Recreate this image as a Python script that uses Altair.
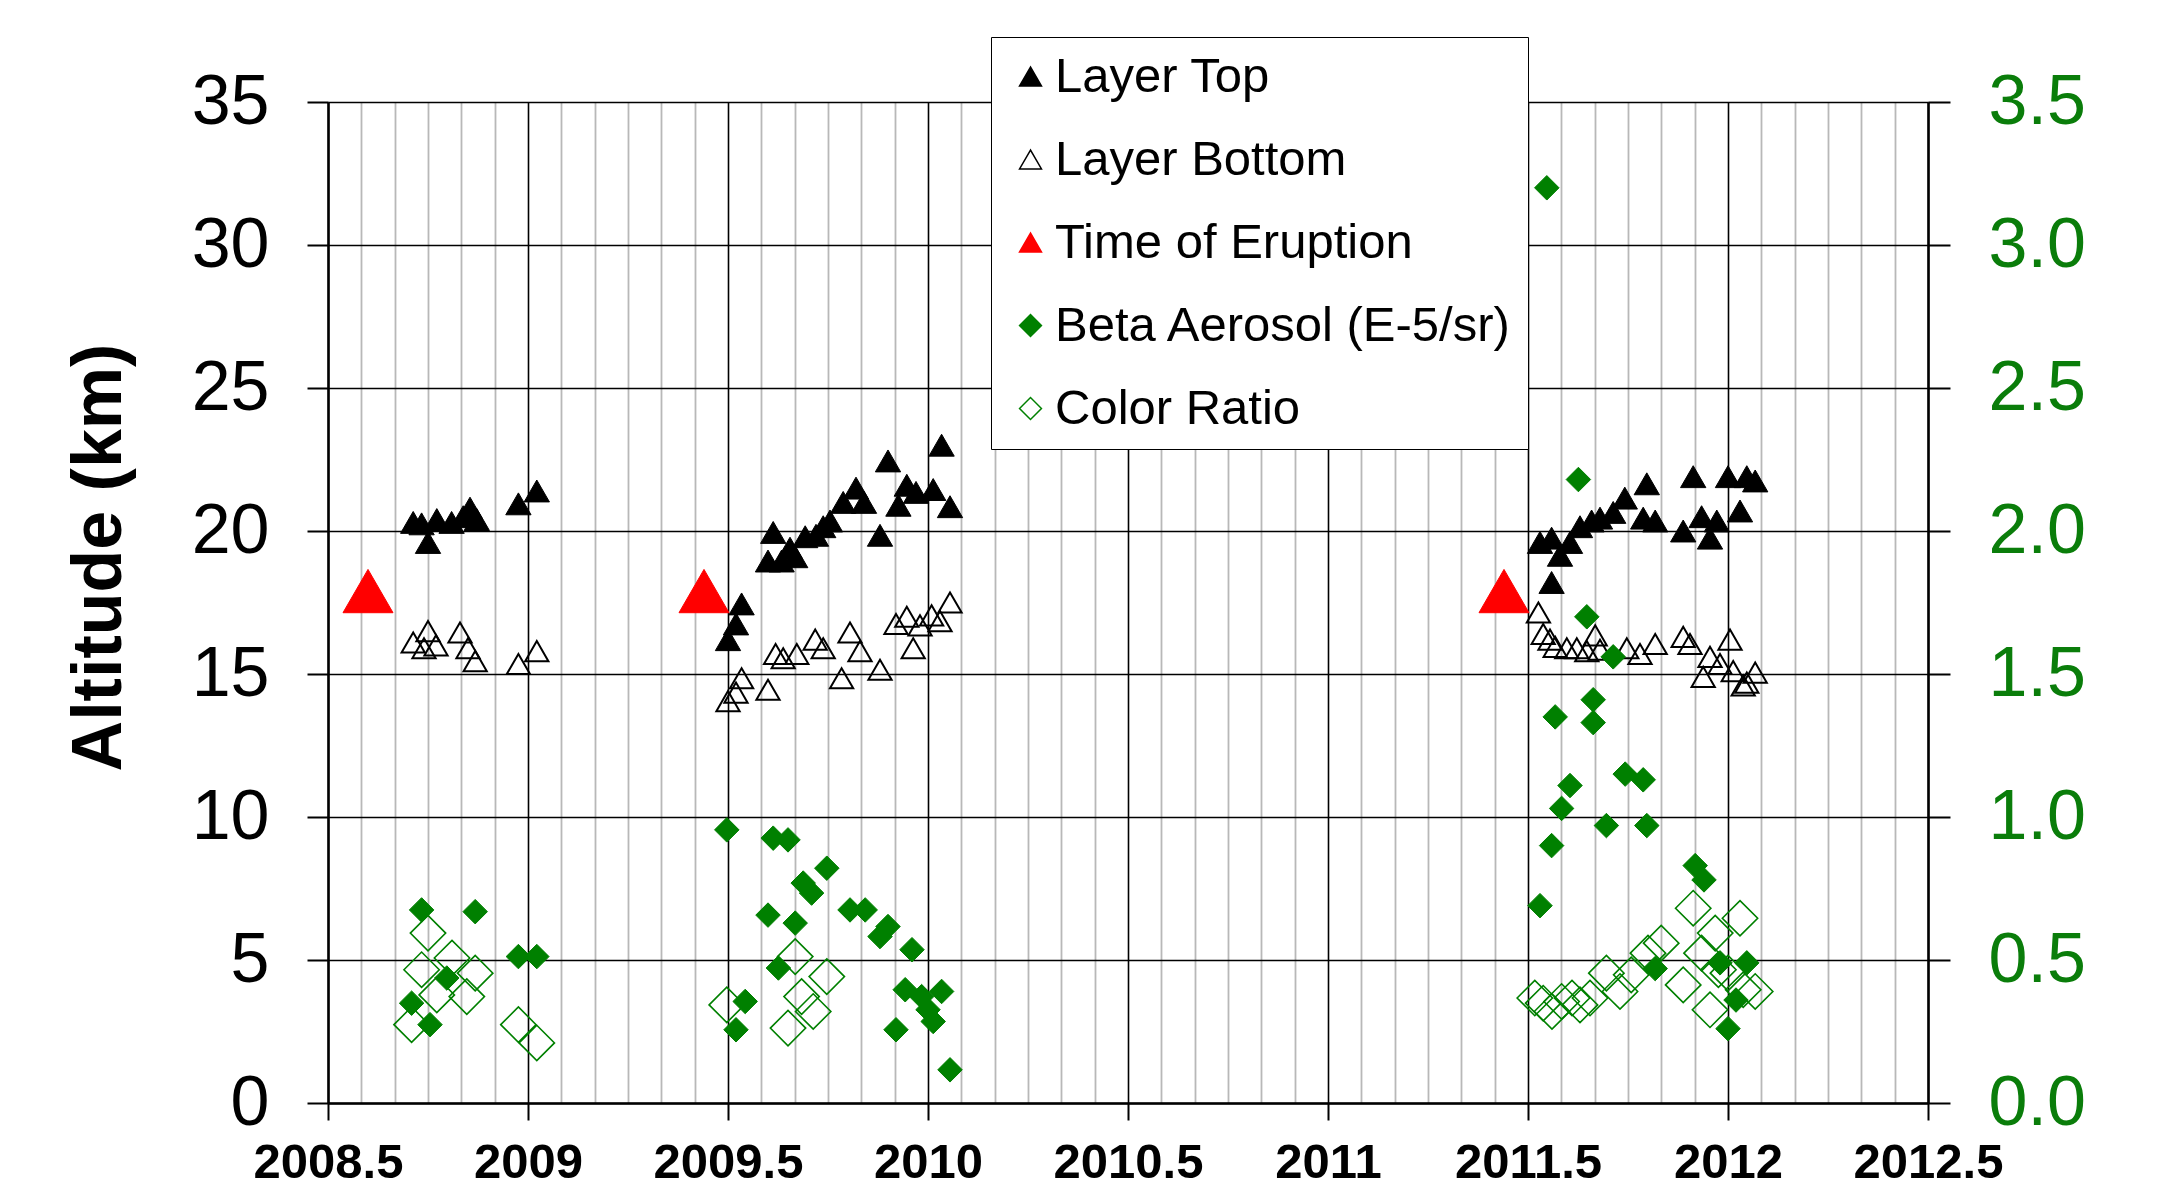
import altair as alt
import pandas as pd

# ---------------- data ----------------
SERIES = ["Layer Top", "Layer Bottom", "Time of Eruption",
          "Beta Aerosol (E-5/sr)", "Color Ratio"]

TOP_X = [2008.713, 2008.734, 2008.750, 2008.772, 2008.809, 2008.838, 2008.855, 2008.872, 2008.976, 2009.022,
         2009.500, 2009.520, 2009.534, 2009.600, 2009.613, 2009.634, 2009.655, 2009.668, 2009.693, 2009.720,
         2009.738, 2009.755, 2009.788, 2009.820, 2009.840, 2009.880, 2009.900, 2009.926, 2009.947, 2009.970,
         2010.013, 2010.034, 2010.055,
         2011.530, 2011.559, 2011.580, 2011.559, 2011.605, 2011.630, 2011.659, 2011.680, 2011.713, 2011.742,
         2011.797, 2011.788, 2011.818, 2011.888, 2011.913, 2011.934, 2011.955, 2011.972, 2012.000, 2012.030,
         2012.047, 2012.068]
TOP_Y = [20.3, 20.25, 19.6, 20.4, 20.3, 20.5, 20.8, 20.4, 20.95, 21.4,
         16.2, 16.75, 17.45, 18.95, 19.95, 18.95, 19.4, 19.1, 19.8, 19.85,
         20.15, 20.35, 21.0, 21.5, 21.0, 19.85, 22.45, 20.9, 21.6, 21.35,
         21.45, 23.0, 20.85,
         19.6, 19.75, 19.15, 18.2, 19.6, 20.15, 20.35, 20.45, 20.65, 21.15,
         21.65, 20.45, 20.35, 20.0, 21.9, 20.5, 19.75, 20.35, 21.9, 20.7,
         21.9, 21.75]

BOT_X = [2008.713, 2008.740, 2008.750, 2008.770, 2008.830, 2008.850, 2008.868, 2008.976, 2009.022,
         2009.500, 2009.520, 2009.534, 2009.600, 2009.619, 2009.638, 2009.672, 2009.718, 2009.738, 2009.784,
         2009.805, 2009.830, 2009.880, 2009.920, 2009.947, 2009.963, 2009.980, 2010.009, 2010.030, 2010.055,
         2011.526, 2011.538, 2011.555, 2011.568, 2011.597, 2011.622, 2011.647, 2011.668, 2011.680, 2011.747,
         2011.780, 2011.818, 2011.888, 2011.905, 2011.955, 2011.938, 2011.980, 2012.005, 2012.013, 2012.038,
         2012.068, 2012.047]
BOT_Y = [16.1, 15.9, 16.5, 16.0, 16.45, 15.9, 15.45, 15.35, 15.8,
         14.05, 14.35, 14.85, 14.45, 15.7, 15.55, 15.7, 16.2, 15.9, 14.85,
         16.45, 15.8, 15.15, 16.75, 17.0, 15.9, 16.7, 17.05, 16.85, 17.5,
         17.15, 16.4, 16.2, 15.95, 15.9, 15.9, 15.8, 16.35, 15.85, 15.9,
         15.7, 16.05, 16.3, 16.05, 15.6, 14.9, 15.35, 16.2, 15.1, 14.6,
         15.05, 14.7]

ERU_X = [2008.60, 2009.44, 2011.44]
ERU_Y = [17.9, 17.9, 17.9]

BETA_X = [2008.734, 2008.868, 2008.976, 2009.022, 2008.797, 2008.709, 2008.755,
          2009.497, 2009.613, 2009.650, 2009.747, 2009.688, 2009.709, 2009.805, 2009.843, 2009.600, 2009.668,
          2009.900, 2009.880, 2009.960, 2009.626, 2009.943, 2009.984, 2010.034, 2010.000, 2010.013, 2009.543,
          2009.520, 2009.920, 2010.055,
          2011.547, 2011.626, 2011.647, 2011.713, 2011.663, 2011.568, 2011.663, 2011.743, 2011.788, 2011.605,
          2011.584, 2011.696, 2011.797, 2011.559, 2011.918, 2011.940, 2011.530, 2011.818, 2011.980, 2012.047,
          2012.020, 2012.000]
BETA_Y = [0.675, 0.669, 0.512, 0.512, 0.437, 0.349, 0.274,
          0.955, 0.926, 0.920, 0.821, 0.769, 0.734, 0.675, 0.675, 0.657, 0.629,
          0.617, 0.582, 0.536, 0.472, 0.396, 0.372, 0.390, 0.326, 0.285, 0.355,
          0.256, 0.256, 0.116,
          3.20, 2.18, 1.70, 1.56, 1.41, 1.35, 1.33, 1.15, 1.13, 1.11,
          1.03, 0.97, 0.97, 0.90, 0.83, 0.78, 0.69, 0.47, 0.49, 0.49,
          0.36, 0.26]

CR_X = [2008.750, 2008.810, 2008.734, 2008.868, 2008.772, 2008.847, 2008.709, 2008.976, 2009.022,
        2009.497, 2009.668, 2009.747, 2009.684, 2009.713, 2009.650,
        2011.517, 2011.538, 2011.560, 2011.584, 2011.610, 2011.630, 2011.655, 2011.696, 2011.730, 2011.758,
        2011.800, 2011.833, 2011.888, 2011.913, 2011.934, 2011.968, 2011.955, 2012.000, 2012.030, 2012.068,
        2011.976, 2012.038]
CR_Y = [0.594, 0.507, 0.466, 0.454, 0.378, 0.372, 0.274, 0.274, 0.210,
        0.343, 0.512, 0.442, 0.372, 0.320, 0.262,
        0.367, 0.349, 0.320, 0.355, 0.367, 0.343, 0.367, 0.454, 0.390, 0.448,
        0.524, 0.559, 0.413, 0.681, 0.524, 0.594, 0.326, 0.454, 0.646, 0.390,
        0.466, 0.396]

X_TICKS = [2008.5, 2009.0, 2009.5, 2010.0, 2010.5, 2011.0, 2011.5, 2012.0, 2012.5]
Y_LEFT_TICKS = [0, 5, 10, 15, 20, 25, 30, 35]
Y_RIGHT_TICKS = [0.0, 0.5, 1.0, 1.5, 2.0, 2.5, 3.0, 3.5]
MINOR_TICKS = [round(2008.5 + k / 12, 6) for k in range(49) if k % 6 != 0]

SHAPES = ["triangle-up", "triangle-up", "triangle-up", "diamond", "diamond"]
FILLS = ["black", "transparent", "#ff0000", "#008000", "transparent"]
STROKES = ["black", "black", "#ff0000", "#008000", "#008000"]
GREEN = "#0a7d0a"
FONT = "Liberation Sans"


def frame(name, xs, ys):
    return pd.DataFrame({"series": name, "year": xs, "value": ys})


left_df = pd.concat([frame(SERIES[0], TOP_X, TOP_Y),
                     frame(SERIES[1], BOT_X, BOT_Y),
                     frame(SERIES[2], ERU_X, ERU_Y)], ignore_index=True)
right_df = pd.concat([frame(SERIES[3], BETA_X, BETA_Y),
                      frame(SERIES[4], CR_X, CR_Y)], ignore_index=True)

legend = alt.Legend(orient="none", legendX=663, legendY=-65,
                    fillColor="white", strokeColor="black", padding=15,
                    labelFont=FONT, labelFontSize=49, labelColor="black",
                    labelLimit=1000, labelOffset=0, rowPadding=33,
                    symbolSize=480, symbolStrokeWidth=1.5)

x_scale = alt.Scale(domain=[2008.5, 2012.5], nice=False, zero=False)

shape_enc = alt.Shape("series:N", scale=alt.Scale(domain=SERIES, range=SHAPES), legend=legend, title=None)
fill_enc = alt.Fill("series:N", scale=alt.Scale(domain=SERIES, range=FILLS), legend=legend, title=None)
stroke_enc = alt.Stroke("series:N", scale=alt.Scale(domain=SERIES, range=STROKES), legend=legend, title=None)

x_major = alt.X("year:Q", scale=x_scale, title=None,
                axis=alt.Axis(orient="bottom", values=X_TICKS, format="~f",
                              labelFont=FONT, labelFontSize=49, labelFontWeight="bold",
                              labelColor="black", labelPadding=18, labelFlush=False,
                              labelOverlap=False, tickSize=17, tickColor="black", tickWidth=2,
                              domainColor="black", domainWidth=2.5,
                              grid=True, gridColor="black", gridWidth=1.6, gridOpacity=1))

x_minor = alt.X("year:Q", scale=x_scale, title=None,
                axis=alt.Axis(orient="top", values=MINOR_TICKS, labels=False, ticks=False,
                              domain=False, grid=True, gridColor="#b8b8b8", gridWidth=1.8,
                              gridOpacity=1))

y_left = alt.Y("value:Q", scale=alt.Scale(domain=[0, 35], nice=False, zero=True),
               title="Altitude (km)",
               axis=alt.Axis(orient="left", values=Y_LEFT_TICKS, labelFont=FONT,
                             labelFontSize=70, labelColor="black", labelPadding=38,
                             labelFlush=False, labelOverlap=False,
                             tickSize=21, tickColor="black", tickWidth=2,
                             domainColor="black", domainWidth=2.5,
                             grid=True, gridColor="black", gridWidth=1.6, gridOpacity=1,
                             titleFont=FONT, titleFontSize=70, titleFontWeight="bold",
                             titleColor="black", titleAngle=270, titleX=-229, titleY=455,
                             titleAlign="center", titleBaseline="middle"))

y_right = alt.Y("value:Q", scale=alt.Scale(domain=[0, 3.5], nice=False, zero=True),
                title=None,
                axis=alt.Axis(orient="right", values=Y_RIGHT_TICKS, format=".1f",
                              labelFont=FONT, labelFontSize=70, labelColor=GREEN,
                              labelPadding=38, labelFlush=False, labelOverlap=False,
                              tickSize=22, tickColor="black", tickWidth=2,
                              domainColor="black", domainWidth=2.5, grid=False))

base_l = alt.Chart(left_df).encode(x=x_major, y=y_left, shape=shape_enc,
                                   fill=fill_enc, stroke=stroke_enc)
top_layer = base_l.transform_filter(alt.datum.series == SERIES[0]).mark_point(
    size=640, opacity=1, strokeWidth=1)
bot_layer = base_l.transform_filter(alt.datum.series == SERIES[1]).mark_point(
    size=540, opacity=1, strokeWidth=2)
eru_layer = base_l.transform_filter(alt.datum.series == SERIES[2]).mark_point(
    size=2500, opacity=1, strokeWidth=1)
left = alt.layer(top_layer, bot_layer, eru_layer)

base_r = alt.Chart(right_df).encode(x=x_minor, y=y_right, shape=shape_enc,
                                    fill=fill_enc, stroke=stroke_enc)
cr_layer = base_r.transform_filter(alt.datum.series == SERIES[4]).mark_point(
    size=1250, opacity=1, strokeWidth=1.6)
beta_layer = base_r.transform_filter(alt.datum.series == SERIES[3]).mark_point(
    size=600, opacity=1, strokeWidth=1)
right = alt.layer(cr_layer, beta_layer)

chart = alt.layer(left, right).resolve_scale(y="independent").resolve_axis(
    x="independent", y="independent"
).properties(
    width=1600, height=1001,
    autosize=alt.AutoSizeParams(type="none"),
    padding={"left": 320, "top": 94, "right": 236, "bottom": 96},
    background="white",
).configure_view(stroke="transparent")

chart.save("out.html", embed_options={"renderer": "svg", "actions": False})
